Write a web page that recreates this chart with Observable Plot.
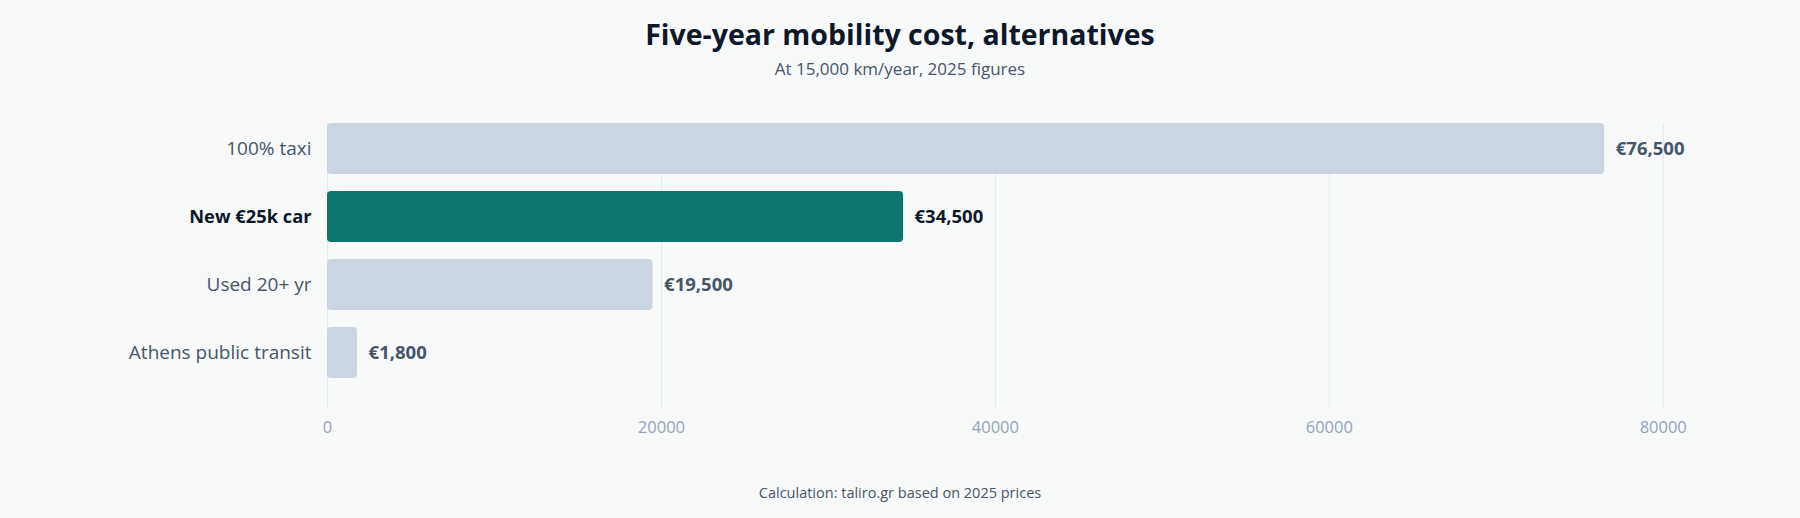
<!DOCTYPE html>
<html>
<head>
<meta charset="utf-8">
<script src="https://cdn.jsdelivr.net/npm/d3@7"></script>
<script src="https://cdn.jsdelivr.net/npm/@observablehq/plot@0.6"></script>
<style>
  html, body { margin: 0; padding: 0; background: #f8fafa; }
  body { width: 1800px; height: 518px; font-family: "Open Sans", "Noto Sans", sans-serif; overflow: hidden; }
  #title { text-align: center; font-size: 28.5px; font-weight: 700; color: #0f172a; line-height: 32px; padding-top: 18px; }
  #subtitle { text-align: center; font-size: 17px; color: #475569; line-height: 20px; margin-top: 9px; }
  #chart { margin-top: 16px; height: 360px; }
  #chart svg { display: block; background: transparent; overflow: visible; }
  #caption { text-align: center; font-size: 14.5px; color: #475569; line-height: 20px; margin-top: 28px; }
</style>
</head>
<body>
<div id="title">Five-year mobility cost, alternatives</div>
<div id="subtitle">At 15,000 km/year, 2025 figures</div>
<div id="chart"></div>
<div id="caption">Calculation: taliro.gr based on 2025 prices</div>
<script>
const categories = ["100% taxi", "New €25k car", "Used 20+ yr", "Athens public transit"];
const costs = [76500, 34500, 19500, 1800];
const highlighted = [false, true, false, false];
const xTicks = [0, 20000, 40000, 60000, 80000];

const data = categories.map((c, i) => ({category: c, cost: costs[i], hi: highlighted[i]}));
const fmt = v => "€" + d3.format(",")(v);

const plot = Plot.plot({
  width: 1800,
  height: 360,
  marginLeft: 327,
  marginRight: 68,
  marginTop: 28,
  marginBottom: 47,
  style: {background: "transparent", fontFamily: "Open Sans, Noto Sans, sans-serif", overflow: "visible"},
  x: {domain: [0, 84150]},
  y: {domain: categories, range: [28, 283], paddingInner: 0.25, paddingOuter: 0},
  marks: [
    Plot.gridX(xTicks, {stroke: "#e2e8f0", strokeOpacity: 1, strokeWidth: 1}),
    Plot.axisX(xTicks, {tickSize: 0, tickPadding: 13, fontSize: 16.5, fill: "#94a3b8", tickFormat: d => String(d), label: null}),
    Plot.axisY({ticks: [], label: null, tickSize: 0}),
    Plot.barX(data, {x: "cost", y: "category", fill: d => d.hi ? "#0f766e" : "#cbd5e1", rx: 4}),
    Plot.text(data.filter(d => !d.hi), {x: 0, y: "category", text: "category", dx: -16, textAnchor: "end", fontSize: 19, fill: "#475569"}),
    Plot.text(data.filter(d => d.hi), {x: 0, y: "category", text: "category", dx: -16, textAnchor: "end", fontSize: 18.3, fontWeight: 700, fill: "#0f172a"}),
    Plot.text(data, {x: "cost", y: "category", text: d => fmt(d.cost), dx: 11, textAnchor: "start", fontSize: 18.5, fontWeight: 700, fill: d => d.hi ? "#0f172a" : "#475569"})
  ]
});
document.getElementById("chart").appendChild(plot);
</script>
</body>
</html>
